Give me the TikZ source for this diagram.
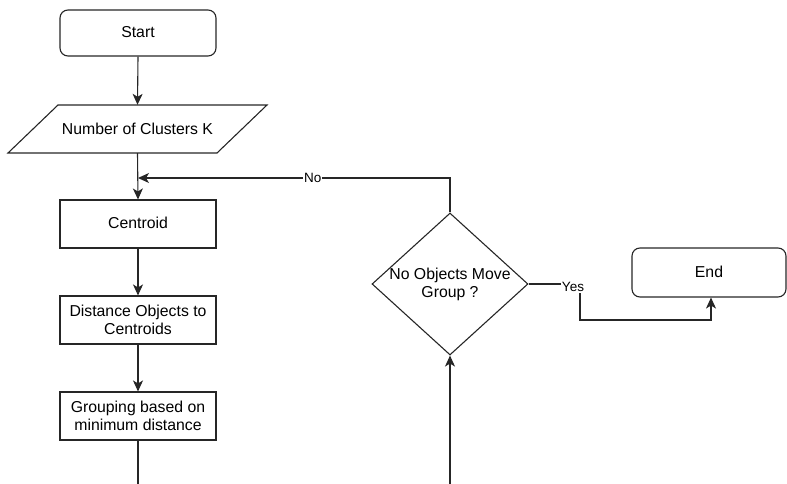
\documentclass[tikz,border=0pt]{standalone}
\usepackage{fontspec}
\setmainfont{Liberation Sans}
\usetikzlibrary{shapes.geometric,arrows.meta}
\begin{document}
\begin{tikzpicture}[x=1pt,y=-1pt,
  every node/.style={font=\fontsize{15.8}{18}\selectfont, align=center},
  ln/.style={draw=black!85, line width=1.1pt},
  arr/.style={ln, -{Stealth[length=11pt,width=10pt,inset=3pt]}},
  term/.style={ln, rounded corners=8pt, minimum width=156pt, minimum height=46pt, inner sep=0pt},
  proc/.style={ln, minimum width=156pt, minimum height=48pt, inner sep=0pt},
  lbl/.style={fill=white, inner sep=1pt, font=\fontsize{13.5}{16}\selectfont}]
\useasboundingbox (0,0) rectangle (787,484);
\node[term] (start) at (138,33) {\raisebox{2pt}{Start}};
\draw[ln] (58,105) -- (267,105) -- (217,153) -- (8,153) -- cycle;
\node[minimum width=156pt, minimum height=48pt, inner sep=0pt] (num) at (137.5,129) {\raisebox{1pt}{Number of Clusters K}};
\node[proc] (cen) at (138,224) {\raisebox{2pt}{Centroid}};
\node[proc] (dist) at (138,320) {Distance Objects to\\Centroids};
\node[proc] (grp) at (138,416) {Grouping based on\\minimum distance};
\node[ln, diamond, minimum width=156pt, minimum height=142pt, inner sep=0pt] (dec) at (450,284) {};
\node (dect) at (450,284) {No Objects Move\\Group ?};
\node[term, minimum width=154pt, minimum height=49pt] (end) at (709,272.5) {\raisebox{2pt}{End}};
\coordinate (join) at (138,178);
\coordinate (botl) at (138,484);
\coordinate (botr) at (450,484);
\coordinate (ycorner) at (711,320);
\draw[arr] (start.south) -- (num.north);
\draw[arr] (num.south) -- (cen.north);
\draw[arr] (cen.south) -- (dist.north);
\draw[arr] (dist.south) -- (grp.north);
\draw[ln] (grp.south) -- (botl);
\draw[arr] (botr) -- (dec.south);
\draw[arr] (dec.north) -- (450,178) -- node[lbl, pos=0.44] {No} (join);
\draw[arr] (dec.east) -- (580,284) -- (580,320) -- (ycorner) -- (ycorner |- end.south);
\node[lbl] (yes) at (573,287) {Yes};
\end{tikzpicture}
\end{document}
